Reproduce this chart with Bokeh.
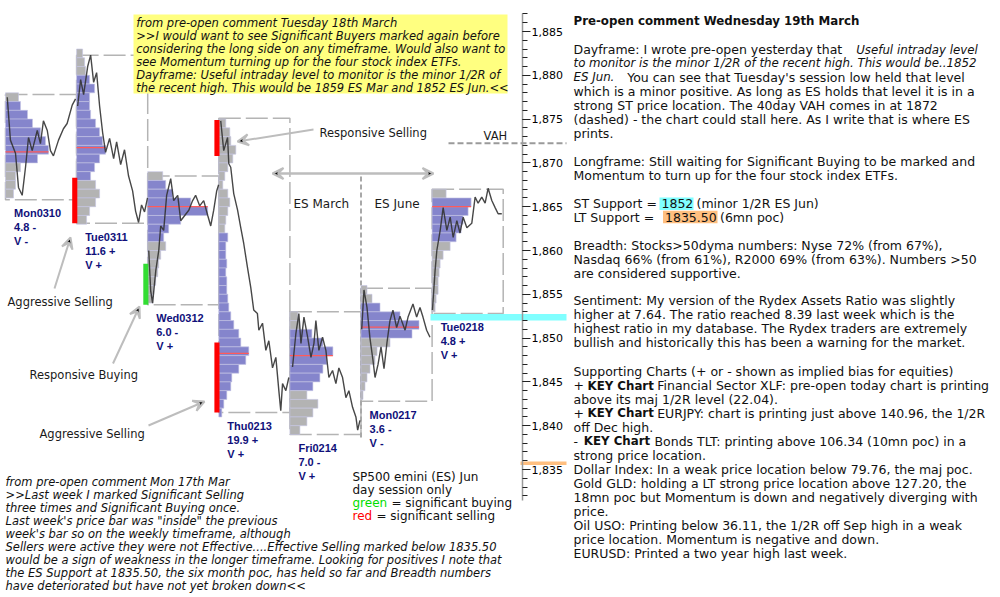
from bokeh.plotting import figure
from bokeh.models import (Range1d, LinearAxis, SingleIntervalTicker, NumeralTickFormatter,
                          Arrow, VeeHead, ColumnDataSource)
from bokeh.core.properties import value
from bokeh.embed import file_html
from bokeh.resources import INLINE

# ---------------- data ----------------
days = ["Mon0310", "Tue0311", "Wed0312", "Thu0213", "Fri0214", "Mon0217", "Tue0218"]
day_range_txt = ["4.8 -", "11.6 +", "6.0 -", "19.9 +", "7.0 -", "3.6 -", "4.8 +"]
day_vol_txt = ["V -", "V +", "V +", "V +", "V +", "V -", "V +"]
day_high = [1877.8, 1882.3, 1868.5, 1875.1, 1853.0, 1855.7, 1867.0]
day_low = [1865.8, 1863.1, 1853.8, 1841.5, 1839.0, 1842.8, 1852.8]
poc = [1871.25, 1871.75, 1865.0, 1848.25, 1848.0, 1851.25, 1865.0]
va_high = [1876, 1879, 1867, 1861, 1850, 1853, 1865]
va_low = [1870, 1868, 1861, 1841, 1844, 1850, 1861]
prof_top = [1877, 1882, 1868, 1874, 1852, 1855, 1866]

# volume profile (1 point bins, from top bin downwards)
vol_mon0310 = [13, 15, 22, 27, 35, 40, 43, 32, 15, 10, 10, 8]
vol_tue0311 = [6, 8, 9, 13, 18, 13, 13, 14, 19, 23, 26, 29, 23, 18, 14, 19, 23, 19, 13, 10]
vol_wed0312 = [15, 18, 25, 43, 60, 33, 21, 16, 18, 13, 11, 10, 8, 6, 5]
vol_thu0213 = [7, 11, 12, 17, 14, 9, 6, 4, 9, 11, 9, 7, 6, 9, 7, 7, 8, 7, 8, 8, 9, 10, 12,
               15, 20, 22, 30, 27, 20, 13, 12, 8, 5, 3]
vol_fri0214 = [8, 10, 22, 33, 43, 37, 33, 30, 23, 17, 28, 23, 17, 10]
vol_mon0217 = [6, 11, 19, 39, 58, 51, 29, 16, 14, 9, 6, 4, 2]
vol_tue0218 = [14, 39, 36, 31, 29, 24, 18, 11, 8, 7, 6, 6, 4, 3]
profiles = [vol_mon0310, vol_tue0311, vol_wed0312, vol_thu0213, vol_fri0214, vol_mon0217, vol_tue0218]

# intraday price paths: minutes into the day session, price
t_mon0310 = [10, 28, 57, 74, 95, 114, 131, 152, 181, 199, 216, 238, 256, 273, 302, 330, 351, 380, 399]
p_mon0310 = [1877.5, 1872.6, 1871.1, 1867.2, 1866.3, 1869.5, 1872.9, 1871.4, 1873.7, 1872.2,
             1874.8, 1873.7, 1871.4, 1870.8, 1872.6, 1873.9, 1874.5, 1876.6, 1877.3]
t_tue0311 = [6, 23, 40, 63, 80, 97, 114, 131, 148, 165, 188, 211, 228, 251, 273, 296, 319, 336,
             353, 370, 387, 404]
p_tue0311 = [1876.5, 1879.5, 1877.8, 1881.0, 1882.3, 1879.2, 1880.3, 1876.5, 1873.5, 1871.2,
             1872.8, 1870.5, 1872.4, 1869.8, 1871.5, 1868.5, 1866.8, 1864.5, 1863.2, 1865.2,
             1864.4, 1866.0]
t_wed0312 = [6, 17, 28, 46, 63, 74, 91, 108, 131, 148, 171, 188, 211, 234, 256, 273, 296, 319,
             342, 359, 376, 393, 404]
p_wed0312 = [1860.0, 1855.4, 1854.0, 1857.7, 1860.0, 1862.8, 1862.3, 1866.3, 1868.2, 1865.7,
             1866.3, 1863.4, 1864.0, 1864.6, 1865.7, 1866.3, 1865.1, 1865.7, 1864.0, 1862.8,
             1864.6, 1866.8, 1867.5]
t_thu0213 = [11, 28, 50, 57, 68, 85, 107, 125, 142, 163, 182, 199, 220, 228, 249, 268, 285, 306,
             325, 342, 353, 363, 382, 399]
p_thu0213 = [1874.8, 1871.4, 1872.9, 1869.9, 1869.5, 1866.5, 1864.6, 1862.6, 1860.8, 1858.1,
             1855.8, 1853.2, 1852.8, 1850.9, 1851.7, 1848.6, 1849.7, 1846.6, 1847.8, 1844.0,
             1841.7, 1844.8, 1844.0, 1845.5]
t_fri0214 = [15, 34, 51, 63, 80, 101, 120, 137, 148, 165, 186, 205, 222, 243, 262, 279, 300, 319,
             336, 357, 376, 386, 399]
p_fri0214 = [1846.7, 1850.5, 1852.8, 1849.4, 1852.4, 1850.1, 1847.8, 1849.4, 1852.0, 1848.6,
             1850.1, 1848.6, 1845.5, 1846.3, 1844.8, 1846.6, 1845.5, 1843.2, 1844.0, 1842.1,
             1841.0, 1839.5, 1840.6]
t_mon0217 = [4, 17, 34, 51, 68, 80, 97, 114, 131, 148, 165, 182, 203, 222, 251, 268, 296, 317,
             336, 353, 374, 393]
p_mon0217 = [1851.0, 1855.5, 1853.5, 1850.0, 1847.5, 1845.5, 1847.0, 1849.0, 1846.5, 1849.5,
             1852.0, 1853.2, 1851.2, 1852.5, 1850.9, 1852.4, 1853.9, 1852.4, 1853.5, 1852.4,
             1850.9, 1850.1]
t_tue0218 = [2, 17, 27, 46, 63, 84, 103, 120, 141, 159, 177, 198, 226, 245, 262, 283, 302, 319,
             340, 359, 376, 397]
p_tue0218 = [1853.2, 1857.7, 1860.0, 1862.3, 1864.9, 1862.3, 1863.8, 1861.5, 1863.4, 1862.0,
             1863.8, 1862.6, 1863.1, 1866.1, 1865.4, 1866.1, 1865.4, 1867.1, 1865.7, 1864.9,
             1864.2, 1864.2]
paths_t = [t_mon0310, t_tue0311, t_wed0312, t_thu0213, t_fri0214, t_mon0217, t_tue0218]
paths_p = [p_mon0310, p_tue0311, p_wed0312, p_thu0213, p_fri0214, p_mon0217, p_tue0218]
session_minutes = 405

# significant activity marks
sig_day = [1, 2, 3, 3]
sig_low = [1863.1, 1853.8, 1870.8, 1841.5]
sig_high = [1868.3, 1858.5, 1874.9, 1849.5]
sig_kind = ["selling", "buying", "selling", "selling"]

vah_40day = 1872.25
st_support = 1852.0
lt_support = 1835.5

# ---------------- layout helpers ----------------
W, H = 1000, 597
PX_DAY = 71.1
PX_PT = 8.76
X0 = -5 / PX_DAY
Y_TOP = 1885 + 31 / PX_PT


def X(px):
    return X0 + px / PX_DAY


def Y(py):
    return Y_TOP - py / PX_PT


p = figure(width=W, height=H, x_range=Range1d(X(0), X(W)), y_range=Range1d(Y(H), Y(0)),
           x_axis_type=None, y_axis_type=None, toolbar_location=None,
           output_backend="svg", min_border=0, outline_line_color=None)
p.background_fill_color = "white"

# price axis
yax = LinearAxis(fixed_location=X(522),
                 ticker=SingleIntervalTicker(interval=5, num_minor_ticks=5),
                 formatter=NumeralTickFormatter(format="0,0"),
                 bounds=(1831.5, 1887.1),
                 major_tick_in=0, major_tick_out=8, minor_tick_in=0, minor_tick_out=5,
                 axis_line_color="#9a9a9a", axis_line_width=1.5,
                 major_tick_line_color="#222222", minor_tick_line_color="#222222",
                 major_label_text_font="DejaVu Sans", major_label_text_font_size="11px",
                 major_label_text_color="#000000", major_label_standoff=1)
p.add_layout(yax, "right")

# day boxes
p.quad(left=list(range(len(days))), right=[i + 1 for i in range(len(days))],
       bottom=day_low, top=day_high, fill_alpha=0, line_color="#b4b4b4",
       line_width=1.5, line_dash="22 5")

# contract roll divider
p.segment(x0=[5], y0=[Y(176)], x1=[5], y1=[Y(437)], line_color="#a8a8a8",
          line_width=2, line_dash="5 3")

# volume profiles
VOL_SCALE = 1 / PX_DAY
bl, br, bb, bt, bc = [], [], [], [], []
for i, vols in enumerate(profiles):
    for k, v in enumerate(vols):
        price = prof_top[i] - k
        bl.append(i)
        br.append(i + v * VOL_SCALE)
        bb.append(price)
        bt.append(price + 1)
        bc.append("#8585cc" if va_low[i] <= price <= va_high[i] else "#b3b3b3")
p.quad(left=bl, right=br, bottom=bb, top=bt, fill_color=bc, fill_alpha=1.0,
       line_color="#c4c4e4", line_width=0.6)

# POC lines
p.segment(x0=list(range(len(days))), x1=[i + max(v) * VOL_SCALE for i, v in enumerate(profiles)],
          y0=poc, y1=poc, line_color="#ff5a5a", line_width=1.2)

# significant selling / buying bars
p.quad(left=[d - 0.062 for d in sig_day], right=[d + 0.01 for d in sig_day],
       bottom=sig_low, top=sig_high,
       fill_color=["#ff0000" if k == "selling" else "#33dd33" for k in sig_kind], line_color=None)

# price paths
p.multi_line(xs=[[i + t / session_minutes for t in ts] for i, ts in enumerate(paths_t)],
             ys=paths_p, line_color="#333333", line_width=1.4, line_alpha=0.9)

# reference levels
p.quad(left=[X(430)], right=[X(566)], bottom=[st_support], top=[st_support + 0.75],
       fill_color="#80ffff", line_color=None)
p.quad(left=[X(520)], right=[X(566)], bottom=[lt_support], top=[lt_support + 0.4],
       fill_color="#ffbf80", line_color=None)
p.segment(x0=[X(448)], x1=[X(566)], y0=[vah_40day], y1=[vah_40day], line_color="#9a9a9a",
          line_width=2, line_dash="6 3")

# yellow comment box
p.quad(left=[X(133)], right=[X(507)], bottom=[Y(93)], top=[Y(14)], fill_color="#ffff80",
       line_color=None)
# highlights in right text
p.quad(left=[X(659)], right=[X(693)], bottom=[Y(209.5)], top=[Y(197)], fill_color="#80ffff",
       line_color=None)
p.quad(left=[X(662.5)], right=[X(717)], bottom=[Y(222.8)], top=[Y(210.3)], fill_color="#ffbf80",
       line_color=None)


def put_text(xs, ys, texts, size, style="normal", color="#111111", font="DejaVu Sans",
             align="left", data=False):
    if data:
        xx, yy = list(xs), list(ys)
    else:
        xx, yy = [X(v) for v in xs], [Y(v) for v in ys]
    src = ColumnDataSource(dict(x=xx, y=yy, t=list(texts)))
    p.text(x="x", y="y", text="t", source=src, text_font=value(font),
           text_font_size=value(size), text_font_style=style, text_color=color,
           text_align=align, text_baseline="middle")


# day labels
nd = len(days)
put_text([i + 0.12 for i in range(nd)], [l - 1.54 for l in day_low], days, "11px", "bold",
         "#10107a", "Liberation Sans", data=True)
put_text([i + 0.12 for i in range(nd)], [l - 3.14 for l in day_low], day_range_txt, "11px",
         "bold", "#10107a", "Liberation Sans", data=True)
put_text([i + 0.12 for i in range(nd)], [l - 4.74 for l in day_low], day_vol_txt, "11px",
         "bold", "#10107a", "Liberation Sans", data=True)

# annotation words
put_text([319, 7, 29, 39, 483], [132, 301, 374, 433, 135],
         ["Responsive Selling", "Aggressive Selling", "Responsive Buying", "Aggressive Selling",
          "VAH"], "11.5px", color="#1a1a1a")
put_text([293, 374], [203, 203], ["ES March", "ES June"], "12px", color="#1a1a1a")

# arrows
for (x0, y0, x1, y1) in [(54, 288, 70, 237), (112.5, 363, 139, 306), (148, 425, 204, 401),
                         (313, 129, 237, 141)]:
    p.add_layout(Arrow(end=VeeHead(size=11, line_color="#bdbdbd", line_width=2),
                       x_start=X(x0), y_start=Y(y0), x_end=X(x1), y_end=Y(y1),
                       line_color="#bdbdbd", line_width=2))
p.add_layout(Arrow(start=VeeHead(size=11, line_color="#bdbdbd", line_width=2),
                   end=VeeHead(size=11, line_color="#bdbdbd", line_width=2),
                   x_start=X(272), y_start=Y(173), x_end=X(433), y_end=Y(173),
                   line_color="#bdbdbd", line_width=2.5))

# yellow box text
yellow_lines = ["from pre-open comment Tuesday 18th March",
                ">>I would want to see Significant Buyers marked again before",
                "considering the long side on any timeframe.  Would also want to",
                "see Momentum turning up for the four stock index ETFs.",
                "Dayframe: Useful intraday level to monitor is the minor 1/2R of",
                "the recent high.  This would be 1859 ES Mar and 1852 ES Jun.<<"]
put_text([135.7] * 6, [22 + 13 * k for k in range(6)], yellow_lines, "11.5px", "italic")

# bottom-left comment
bottom_lines = ["from pre-open comment Mon 17th Mar",
                ">>Last week I marked Significant Selling",
                "three times and Significant Buying once.",
                "Last week's price bar was \"inside\" the previous",
                "week's bar so on the weekly timeframe, although",
                "Sellers were active they were not Effective....Effective Selling marked below 1835.50",
                "would be a sign of weakness in the longer timeframe.  Looking for positives I note that",
                "the ES Support at 1835.50, the six month poc, has held so far and Breadth numbers",
                "have deteriorated but have not yet broken down<<"]
put_text([5] * 9, [481 + 13 * k for k in range(9)], bottom_lines, "11.5px", "italic")

# legend
put_text([352, 352], [476, 489], ["SP500 emini  (ES)  Jun", "day session only"], "12px")
put_text([352], [502], ["green"], "12px", color="#00dd00")
put_text([391], [502], ["= significant buying"], "12px")
put_text([352], [515], ["red"], "12px", color="#ff0000")
put_text([376], [515], ["= significant selling"], "12px")

# right-hand commentary
R = 573
rows = [
    (20.7, [(R, "Pre-open comment Wednesday 19th March", "bold")]),
    (49, [(R, "Dayframe: I wrote pre-open yesterday that", "normal"),
          (855.7, "Useful intraday level", "italic")]),
    (62.7, [(R, "to monitor is the minor 1/2R of the recent high.  This would be..1852", "italic")]),
    (76.7, [(R, "ES Jun.", "italic"),
            (626.7, "You can see that Tuesday's session low held that level", "normal")]),
    (90.7, [(R, "which is a minor positive. As long as ES holds that level it is in a", "normal")]),
    (104.7, [(R, "strong ST price location.  The 40day VAH comes in at 1872", "normal")]),
    (118.7, [(R, "(dashed) - the chart could stall here. As I write that is where ES", "normal")]),
    (132.7, [(R, "prints.", "normal")]),
    (161, [(R, "Longframe: Still waiting for Significant Buying to be marked and", "normal")]),
    (175, [(R, "Momentum to turn up for the four stock index ETFs.", "normal")]),
    (203.3, [(R, "ST Support =", "normal"), (661, "1852", "normal"),
             (696, "(minor 1/2R ES Jun)", "normal")]),
    (216.7, [(R, "LT Support  =", "normal"), (664.5, "1835.50", "normal"),
             (719.5, "(6mn poc)", "normal")]),
    (245, [(R, "Breadth: Stocks>50dyma numbers: Nyse 72% (from 67%),", "normal")]),
    (259, [(R, "Nasdaq 66% (from 61%), R2000 69% (from 63%).   Numbers >50", "normal")]),
    (273, [(R, "are considered supportive.", "normal")]),
    (300, [(R, "Sentiment:  My version of the Rydex Assets Ratio was slightly", "normal")]),
    (314, [(R, "higher at 7.64.  The ratio reached 8.39 last week which is the", "normal")]),
    (328, [(R, "highest ratio in my database.  The Rydex traders are extremely", "normal")]),
    (342, [(R, "bullish and historically this has been a warning for the market.", "normal")]),
    (371, [(R, "Supporting Charts  (+ or - shown as implied bias for equities)", "normal")]),
    (385, [(R, "+", "normal"), (587, "KEY Chart", "bold"),
           (656.7, "Financial Sector XLF: pre-open today chart is printing", "normal")]),
    (398.5, [(R, "above its maj 1/2R level (22.04).", "normal")]),
    (412.7, [(R, "+", "normal"), (587, "KEY Chart", "bold"),
             (656.7, "EURJPY: chart is printing just above 140.96, the 1/2R", "normal")]),
    (426.7, [(R, "off Dec high.", "normal")]),
    (440.7, [(R, "-", "normal"), (583.3, "KEY Chart", "bold"),
             (654, "Bonds TLT: printing above 106.34 (10mn poc) in a", "normal")]),
    (454.7, [(R, "strong price location.", "normal")]),
    (468.7, [(R, "Dollar Index:  In a weak price location below 79.76, the maj poc.", "normal")]),
    (482.7, [(R, "Gold  GLD: holding a LT strong price location above 127.20, the", "normal")]),
    (496.7, [(R, "18mn poc but Momentum is down and negatively diverging with", "normal")]),
    (510.7, [(R, "price.", "normal")]),
    (524.7, [(R, "Oil USO:  Printing below 36.11, the 1/2R off Sep high in a weak", "normal")]),
    (538.7, [(R, "price location. Momentum is negative and down.", "normal")]),
    (552.7, [(R, "EURUSD: Printed a two year high last week.", "normal")]),
]
sizes = {"normal": "12.5px", "italic": "11.8px", "bold": "11.8px"}
for style in ["normal", "italic", "bold"]:
    xs, ys, ts = [], [], []
    for (yy, segs) in rows:
        for (xx, tt, st) in segs:
            if st == style:
                xs.append(xx)
                ys.append(yy)
                ts.append(tt)
    put_text(xs, ys, ts, sizes[style], style, "#111111")

open("out.html", "w").write(file_html(p, INLINE))
